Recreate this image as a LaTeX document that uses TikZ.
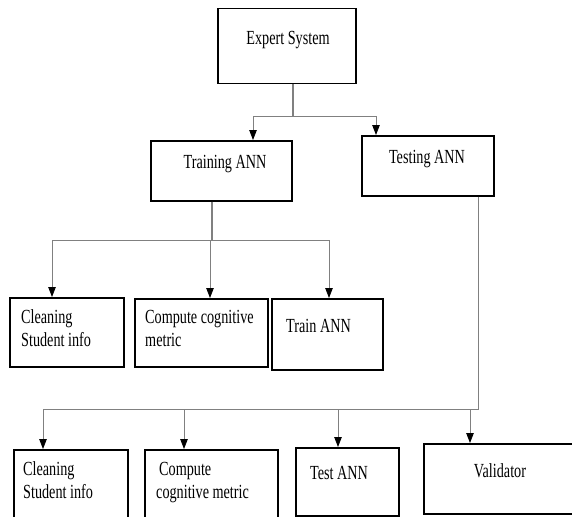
\documentclass[tikz,border=0pt]{standalone}
\usepackage{fontspec}
\setmainfont[FakeStretch=0.71]{Liberation Serif}
\usetikzlibrary{arrows.meta,calc}
\tikzset{
  box/.style={draw=black, line width=1.5pt, fill=white, inner sep=0pt, anchor=north west},
  txt/.style={inner sep=0pt, align=left, font=\fontsize{20}{23}\selectfont, text=black},
  link/.style={draw=black!50, line width=0.9pt},
  arrowlink/.style={link, -{Triangle[width=7.5pt,length=10pt,color=black,fill=black]}},
}
\begin{document}
\begin{tikzpicture}[x=1pt,y=-1pt]
\clip (0,0) rectangle (572,516);
\fill[white] (0,0) rectangle (572,516);
% boxes
\node[box, minimum width=138pt, minimum height=75pt] (exp) at (217,8) {};
\node[box, minimum width=141pt, minimum height=60pt] (train) at (150,140) {};
\node[box, minimum width=132pt, minimum height=60pt] (test) at (361,135) {};
\node[box, minimum width=114pt, minimum height=69pt] (c1) at (9,297) {};
\node[box, minimum width=133pt, minimum height=68pt] (m1) at (134,298) {};
\node[box, minimum width=111pt, minimum height=71pt] (t1) at (271,298) {};
\node[box, minimum width=114pt, minimum height=75pt] (c2) at (13,449) {};
\node[box, minimum width=133pt, minimum height=75pt] (m2) at (144,449) {};
\node[box, minimum width=103pt, minimum height=68pt] (t2) at (295,447) {};
\node[box, minimum width=152pt, minimum height=70pt] (v2) at (423,443) {};
% texts (base anchor of a multi-line node = baseline of its last line)
\node[txt, anchor=base] (expT) at (288,45) {Expert System};
\node[txt, anchor=base] (trainT) at (225,168) {Training ANN};
\node[txt, anchor=base] (testT) at (427,163) {Testing ANN};
\node[txt, anchor=base west] (c1T) at (21,346) {Cleaning\\Student info};
\node[txt, anchor=base west] (m1T) at (145,346) {Compute cognitive\\metric};
\node[txt, anchor=base west] (t1T) at (286,332) {Train ANN};
\node[txt, anchor=base west] (c2T) at (23,498) {Cleaning\\Student info};
\node[txt, anchor=base west] (m2T) at (156,498) {\hspace*{3pt}Compute\\cognitive metric};
\node[txt, anchor=base west] (t2T) at (310,479) {Test ANN};
\node[txt, anchor=base] (v2T) at (500,477) {Validator};
% junctions
\coordinate (jE) at (293,116);
\coordinate (aTr) at (253,116);
\coordinate (aTe) at (376,116);
\coordinate (jT) at (212,240);
\coordinate (a11) at (52,240);
\coordinate (a12) at (210,240);
\coordinate (a13) at (329,240);
\coordinate (jS) at (478,409);
\coordinate (a21) at (43,409);
\coordinate (a22) at (184,409);
\coordinate (a23) at (338,409);
\coordinate (a24) at (470,409);
% connectors
\draw[link, line width=1.3pt] (exp.south -| jE) -- (jE);
\draw[link] (aTr) -- (aTe);
\draw[arrowlink] (aTr) -- (aTr |- train.north);
\draw[arrowlink] (aTe) -- (aTe |- test.north);
\draw[link, line width=1.1pt] (train.south -| jT) -- (jT);
\draw[link] (a11) -- (a13);
\draw[arrowlink] (a11) -- (a11 |- c1.north);
\draw[arrowlink] (a12) -- (a12 |- m1.north);
\draw[arrowlink] (a13) -- (a13 |- t1.north);
\draw[link] (test.south -| jS) -- (jS) -- (a21);
\draw[arrowlink] (a21) -- (a21 |- c2.north);
\draw[arrowlink] (a22) -- (a22 |- m2.north);
\draw[arrowlink] (a23) -- (a23 |- t2.north);
\draw[arrowlink] (a24) -- (a24 |- v2.north);
\end{tikzpicture}
\end{document}
